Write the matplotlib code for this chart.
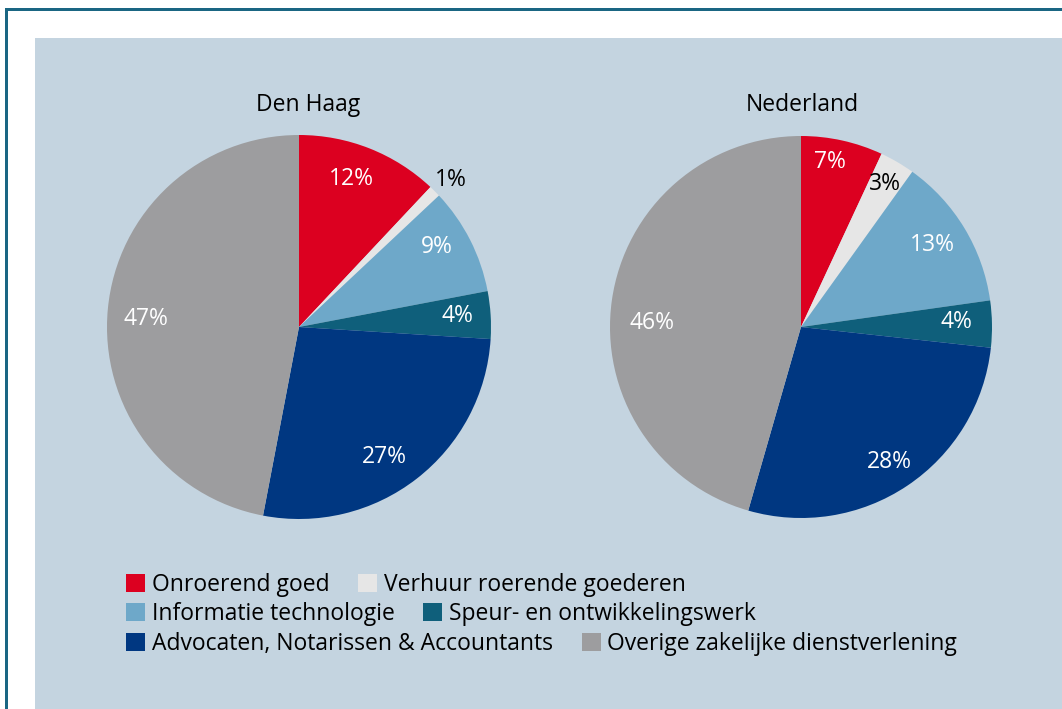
import matplotlib
matplotlib.use('Agg')
import matplotlib.pyplot as plt
from matplotlib.patches import Patch, Rectangle
import numpy as np

plt.rcParams['font.family'] = ['Open Sans', 'DejaVu Sans']

# categorieën en waarden
categories = ['Onroerend goed', 'Verhuur roerende goederen', 'Informatie technologie',
              'Speur- en ontwikkelingswerk', 'Advocaten, Notarissen & Accountants',
              'Overige zakelijke dienstverlening']
colors = ['#dc0020', '#e6e6e6', '#6ea8c9', '#0f5f7b', '#003781', '#9d9d9f']
den_haag = [12, 1, 9, 4, 27, 47]
nederland = [7, 3, 13, 4, 28, 46]
titles = ['Den Haag', 'Nederland']

# label: kleur, afstand en hoekcorrectie per segment
label_color = ['white', 'black', 'white', 'white', 'white', 'white']
label_dist = {'Den Haag': [0.82, 1.10, 0.83, 0.825, 0.81, 0.80],
              'Nederland': [0.875, 0.87, 0.81, 0.815, 0.845, 0.78]}
label_shift = {'Den Haag': [2.0, -0.8, 3.0, 0.4, -4.3, 2.5],
               'Nederland': [2.5, 0.0, 0.8, 0.9, -0.5, 6.5]}

FS = 16.5
W, H = 1062, 709
fig = plt.figure(figsize=(W / 100, H / 100), dpi=100)
fig.patch.set_facecolor('white')

# achtergrond paneel en rand
fig.add_artist(Rectangle((35 / W, 0), 1 - 35 / W, (H - 38) / H, transform=fig.transFigure,
                         facecolor='#c4d4e0', edgecolor='none', zorder=0))
fig.add_artist(Rectangle((5 / W, 0), 3 / W, (H - 8) / H, transform=fig.transFigure,
                         facecolor='#1a6683', edgecolor='none', zorder=1))
fig.add_artist(Rectangle((5 / W, (H - 11) / H), 1, 3 / H, transform=fig.transFigure,
                         facecolor='#1a6683', edgecolor='none', zorder=1))


def draw_pie(cx, cy, r, values, title, tx):
    ax = fig.add_axes([(cx - r) / W, (H - cy - r) / H, 2 * r / W, 2 * r / H])
    ax.set_axis_off()
    wedges, _ = ax.pie(values, colors=colors, startangle=90, counterclock=False,
                       radius=1, wedgeprops=dict(linewidth=0))
    for i, w in enumerate(wedges):
        ang = np.deg2rad((w.theta1 + w.theta2) / 2 + label_shift[title][i])
        d = label_dist[title][i]
        ax.text(d * np.cos(ang), d * np.sin(ang), f'{values[i]}%', ha='center', va='center',
                fontsize=FS, color=label_color[i])
    ax.set_xlim(-1, 1)
    ax.set_ylim(-1, 1)
    fig.text(tx / W, (H - 105) / H, title, ha='center', va='center', fontsize=FS)


draw_pie(299, 327, 192, den_haag, titles[0], 308)
draw_pie(801, 327, 191, nederland, titles[1], 802)

# legenda in drie rijen
rows = [(0, 1, 585), (2, 3, 614), (4, 5, 644)]
for a, b, y in rows:
    handles = [Patch(facecolor=colors[a], edgecolor='none'),
               Patch(facecolor=colors[b], edgecolor='none')]
    fig.legend(handles, [categories[a], categories[b]], loc='center left',
               bbox_to_anchor=(126 / W, (H - y) / H), ncol=2, frameon=False,
               fontsize=FS, handlelength=0.83, handleheight=0.83, handletextpad=0.3,
               columnspacing=1.25, borderpad=0, borderaxespad=0)

fig.savefig('out.png', dpi=100)
